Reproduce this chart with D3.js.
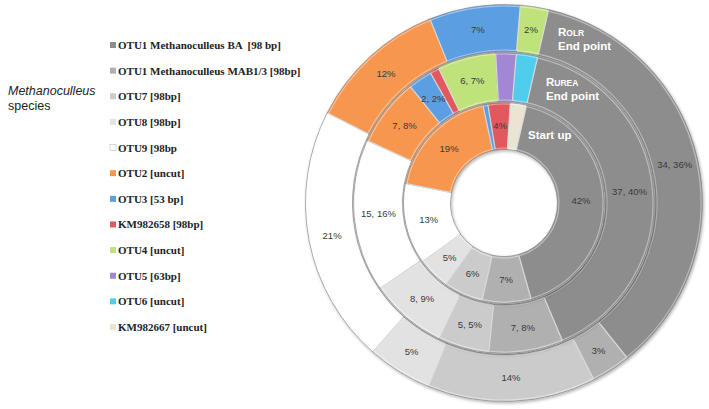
<!DOCTYPE html>
<html><head><meta charset="utf-8">
<script src="https://cdn.jsdelivr.net/npm/d3@7"></script>
<style>
html,body{margin:0;padding:0;background:#fff;}
svg{display:block;}
</style></head>
<body>
<svg id="chart" width="709" height="409"></svg>
<script>
// ---- data ----
const series = ["OTU1 Methanoculleus BA  [98 bp]", "OTU1 Methanoculleus MAB1/3 [98bp]", "OTU7 [98bp]", "OTU8 [98bp]", "OTU9 [98bp", "OTU2 [uncut]", "OTU3 [53 bp]", "KM982658 [98bp]", "OTU4 [uncut]", "OTU5 [63bp]", "OTU6 [uncut]", "KM982667 [uncut]"];
const colors = ["#8d8d8d", "#b0b0b0", "#cbcbcb", "#e2e2e2", "#ffffff", "#f7964f", "#5b9ee2", "#e2585e", "#c0e27a", "#a287d4", "#4fcdec", "#e9e5d2"];
const startUp = [42, 7.9, 6.4, 5.2, 13, 18.5, 0.8, 3.6, 0, 0, 0, 2.6];
const rUrea   = [40, 8, 5.5, 8.3, 16.4, 7.4, 2.6, 1, 6.3, 2.2, 2.3, 0];
const rOlr    = [35.7, 3.2, 13.7, 5.3, 21, 11.4, 7.4, 0, 2.3, 0, 0, 0];
const startUpLabels = ["42%", "7%", "6%", "5%", "13%", "19%", "", "4%", "", "", "", ""];
const rUreaLabels   = ["37, 40%", "7, 8%", "5, 5%", "8, 9%", "15, 16%", "7, 8%", "2, 2%", "", "6, 7%", "", "", ""];
const rOlrLabels    = ["34, 36%", "3%", "14%", "5%", "21%", "12%", "7%", "", "2%", "", "", ""];
const ringNames = [["R", "UREA", "End point"], ["R", "OLR", "End point"]];

// ---- drawing ----
const svg = d3.select("#chart");
const defs = svg.append("defs");
const f = defs.append("filter").attr("id","shadow").attr("x","-10%").attr("y","-10%").attr("width","120%").attr("height","120%");
f.append("feDropShadow").attr("dx",1).attr("dy",1.5).attr("stdDeviation",1.5).attr("flood-color","#000").attr("flood-opacity",0.3);

const cx = 504, cy = 203;
const startA = 13 * Math.PI / 180;
const g = svg.append("g").attr("transform", `translate(${cx},${cy})`);

const pie = d3.pie().sort(null).value(d => d).startAngle(startA).endAngle(startA + 2 * Math.PI);

const rings = [
  {vals: startUp, labels: startUpLabels, r0: 53, r1: 101},
  {vals: rUrea, labels: rUreaLabels, r0: 101, r1: 151},
  {vals: rOlr, labels: rOlrLabels, r0: 151, r1: 199}
];

// draw outer ring first so inner ring shadows fall on it
rings.slice().reverse().forEach(ring => {
  const arc = d3.arc().innerRadius(ring.r0 + 0.5).outerRadius(ring.r1 - 0.5);
  const arcHi = d3.arc().innerRadius(ring.r0 + 2).outerRadius(ring.r1 - 2);
  const arcs = pie(ring.vals).map((d, i) => ({...d, i})).filter(d => d.value > 0);
  const rg = g.append("g").attr("filter", "url(#shadow)");
  rg.selectAll("path.seg").data(arcs).join("path")
    .attr("class","seg")
    .attr("d", arc)
    .attr("fill", d => colors[d.i])
    .attr("stroke", "#8a8a8a")
    .attr("stroke-width", 0.7);
  g.append("g").selectAll("path").data(arcs).join("path")
    .attr("d", arcHi)
    .attr("fill", "none")
    .attr("stroke", "#ffffff")
    .attr("stroke-opacity", 0.4)
    .attr("stroke-width", 1.2);
  ring.arcs = arcs;
});

rings.forEach(ring => {
  const la = d3.arc().innerRadius(ring.r0).outerRadius(ring.r1);
  g.append("g").selectAll("text").data(ring.arcs.filter(d => ring.labels[d.i])).join("text")
    .attr("transform", d => `translate(${la.centroid(d)})`)
    .attr("text-anchor", "middle")
    .attr("dy", "0.35em")
    .attr("font-family", "Liberation Sans, Arial, sans-serif")
    .attr("font-size", 9.5)
    .attr("fill", "#3a3a3a")
    .text(d => ring.labels[d.i]);
});

// ring titles
const titleFont = "Liberation Sans, Arial, sans-serif";
function ringTitle(x, y, parts) {
  const t = g.append("text").attr("x", x).attr("y", y).attr("font-family", titleFont)
    .attr("font-weight", "bold").attr("fill", "#ffffff");
  t.append("tspan").attr("font-size", 11.5).text(parts[0]);
  t.append("tspan").attr("font-size", 8.5).text(parts[1]);
  g.append("text").attr("x", x).attr("y", y + 14).attr("font-family", titleFont)
    .attr("font-weight", "bold").attr("font-size", 11.5).attr("fill", "#ffffff").text(parts[2]);
}
ringTitle(54, -167, ringNames[1]);
ringTitle(42, -117, ringNames[0]);
g.append("text").attr("x", 24).attr("y", -64).attr("font-family", titleFont)
  .attr("font-weight", "bold").attr("font-size", 11.5).attr("fill", "#ffffff").text("Start up");

// legend
const lg = svg.append("g");
const ly = d3.scalePoint().domain(series).range([45, 327]);
lg.selectAll("rect").data(series).join("rect")
  .attr("x", 110).attr("y", d => ly(d) - 3).attr("width", 6).attr("height", 6)
  .attr("fill", (d, i) => colors[i]).attr("stroke", (d,i) => i === 4 ? "#bbb" : "none").attr("stroke-width", 0.6);
lg.selectAll("text").data(series).join("text")
  .attr("x", 118).attr("y", d => ly(d) + 4)
  .attr("font-family", "Liberation Serif, 'DejaVu Serif', serif")
  .attr("font-weight", "bold").attr("font-size", 11).attr("fill", "#222")
  .attr("xml:space", "preserve")
  .style("white-space", "pre")
  .text(d => d);

svg.append("text").attr("x", 8).attr("y", 95).attr("font-family", "Liberation Sans, Arial, sans-serif")
  .attr("font-style", "italic").attr("font-size", 12.5).attr("fill", "#222").text("Methanoculleus");
svg.append("text").attr("x", 8).attr("y", 110).attr("font-family", "Liberation Sans, Arial, sans-serif")
  .attr("font-size", 12.5).attr("fill", "#222").text("species");
</script>
</body></html>
